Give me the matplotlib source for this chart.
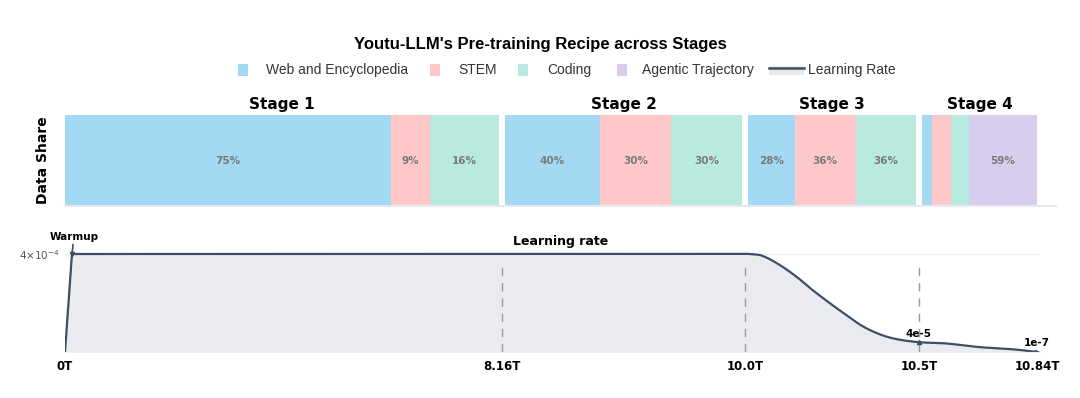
# Youtu-LLM 预训练配方：数据占比 + 学习率曲线
import matplotlib
matplotlib.use("Agg")
import matplotlib.pyplot as plt
import numpy as np
from matplotlib.patches import Rectangle
from matplotlib.lines import Line2D

# ---- 数据 ----
stages = ["Stage 1", "Stage 2", "Stage 3", "Stage 4"]
categories = ["Web and Encyclopedia", "STEM", "Coding", "Agentic Trajectory"]
web = [75, 40, 28, 9]
stem = [9, 30, 36, 16]
coding = [16, 30, 36, 16]
agentic = [0, 0, 0, 59]

stage_tokens = [0, 8.16, 10.0, 10.5, 10.84]  # 各阶段边界 (T)
tick_labels = ["0T", "8.16T", "10.0T", "10.5T", "10.84T"]

# 学习率曲线
lr_tokens = [0, 0.13, 10.0, 10.014, 10.051, 10.10, 10.149, 10.194, 10.243, 10.291,
             10.337, 10.386, 10.434, 10.5, 10.578, 10.674, 10.77, 10.84]
lr_values = [0, 4.0e-4, 4.0e-4, 4.0e-4, 3.92e-4, 3.55e-4, 3.06e-4, 2.53e-4, 2.0e-4, 1.51e-4,
             1.06e-4, 0.73e-4, 0.53e-4, 0.4e-4, 0.35e-4, 0.2e-4, 0.11e-4, 1e-7]

# ---- 样式 ----
colors = ["#a3d9f3", "#ffc8c8", "#b8eae0", "#d9cdee"]
line_c = "#3d4f63"
fill_c = "#e9ebee"
POS = [0, 437, 680, 854, 972]  # 阶段边界在x方向的像素位置 (非线性坐标)
GAP = 3


def tx(t):
    return np.interp(t, stage_tokens, POS)


def smooth(x, y, n=16):
    # Catmull-Rom 平滑，只用于画线
    x = np.asarray(x, float)
    y = np.asarray(y, float)
    px = np.concatenate([[x[0]], x, [x[-1]]])
    py = np.concatenate([[y[0]], y, [y[-1]]])
    ox, oy = [], []
    for i in range(1, len(px) - 2):
        s = np.linspace(0, 1, n, endpoint=False)
        for p, out in ((px, ox), (py, oy)):
            p0, p1, p2, p3 = p[i - 1], p[i], p[i + 1], p[i + 2]
            out.extend(0.5 * (2 * p1 + (-p0 + p2) * s + (2 * p0 - 5 * p1 + 4 * p2 - p3) * s ** 2
                              + (-p0 + 3 * p1 - 3 * p2 + p3) * s ** 3))
    ox.append(x[-1])
    oy.append(y[-1])
    return np.array(ox), np.array(oy)


fig = plt.figure(figsize=(10.8, 3.98), dpi=100)

# ---- 上方：数据占比 ----
ax1 = fig.add_axes([65 / 1080, 1 - 206 / 398, 991 / 1080, 91 / 398])
shares = [web, stem, coding, agentic]
for s in range(len(stages)):
    x0 = POS[s] + (GAP if s > 0 else 0)
    x1 = POS[s + 1] - (GAP if s < len(stages) - 1 else 0)
    w = x1 - x0
    left = x0
    for c in range(len(categories)):
        v = shares[c][s]
        if v == 0:
            continue
        bw = w * v / 100
        ax1.barh(0.5, bw, height=1, left=left, color=colors[c], edgecolor="none")
        if bw > 25:
            ax1.text(left + bw / 2, 0.5, f"{v}%", ha="center", va="center",
                     fontsize=7.5, fontweight="bold", color="#7a7a7a")
        left += bw
    ax1.text((x0 + x1) / 2, 1.03, stages[s], ha="center", va="bottom",
             fontsize=11, fontweight="bold")
ax1.set_xlim(0, 991)
ax1.set_ylim(0, 1)
ax1.set_xticks([])
ax1.set_yticks([])
for sp in ["top", "left", "right"]:
    ax1.spines[sp].set_visible(False)
ax1.spines["bottom"].set_color("#e6eaf0")
ax1.spines["bottom"].set_linewidth(1.5)
ax1.set_ylabel("Data Share", fontsize=10, fontweight="bold", labelpad=11)

# ---- 下方：学习率 ----
ax2 = fig.add_axes([65 / 1080, 1 - 352 / 398, 975 / 1080, 120 / 398])
xs = tx(lr_tokens)
sx, sy = smooth(xs[2:], lr_values[2:])
cx = np.concatenate([xs[:2], sx])
cy = np.concatenate([lr_values[:2], sy])
ax2.fill_between(cx, cy, 0, color=fill_c, lw=0)
ax2.plot(cx, cy, color=line_c, lw=1.6, solid_capstyle="round")
for t in stage_tokens[1:4]:
    ax2.plot([tx(t), tx(t)], [0, 3.67e-4], color="#9a9a9a", lw=1, ls=(0, (6, 5)))
ax2.axhline(4e-4, color="#eeeeee", lw=1, zorder=0)
ax2.set_xlim(0, 975)
ax2.set_ylim(0, 4e-4 * 120 / 98)
ax2.set_xticks(tx(stage_tokens))
ax2.set_xticklabels(tick_labels, fontsize=8.5, fontweight="bold")
ax2.set_yticks([4e-4])
ax2.set_yticklabels([r"$4{\times}10^{-4}$"], fontsize=7.5, color="#555555")
ax2.tick_params(axis="x", length=0, pad=6)
ax2.tick_params(axis="y", length=0, pad=4)
for sp in ["top", "left", "right"]:
    ax2.spines[sp].set_visible(False)
ax2.spines["bottom"].set_color("#eeeeee")

# 标注
ax2.annotate("Warmup", xy=(tx(0.13), 4e-4), xytext=(tx(0.13) + 2, 4.5e-4),
             ha="center", va="bottom", fontsize=7.5, fontweight="bold",
             arrowprops=dict(arrowstyle="-", color=line_c, lw=1.2, shrinkA=0, shrinkB=0))
ax2.plot([tx(0.13)], [4e-4], marker="v", ms=3, color=line_c)
ax2.plot([tx(10.5)], [4e-5], marker="^", ms=3, color=line_c)
ax2.text(tx(10.5), 5.4e-5, "4e-5", ha="center", va="bottom", fontsize=7.5, fontweight="bold")
ax2.plot([tx(10.84)], [1e-7], marker=">", ms=3, color=line_c)
ax2.text(tx(10.84), 1.6e-5, "1e-7", ha="center", va="bottom", fontsize=7.5, fontweight="bold")
ax2.text(496, 4.53e-4, "Learning rate", ha="center", va="center", fontsize=9, fontweight="bold")

# ---- 标题和图例 ----
fig.text(0.5, 1 - 44 / 398, "Youtu-LLM's Pre-training Recipe across Stages", ha="center",
         va="center", fontsize=12, fontweight="bold", family="Liberation Sans")

W, H = 1080, 398
leg_y = 70
sq_x = [238, 430, 518, 617]
txt_x = [266, 458, 547, 642]
for c in range(len(categories)):
    fig.add_artist(Rectangle((sq_x[c] / W, 1 - (leg_y + 6) / H), 10 / W, 12 / H,
                             transform=fig.transFigure, color=colors[c], lw=0))
    fig.text(txt_x[c] / W, 1 - leg_y / H, categories[c], ha="left", va="center",
             fontsize=10, family="Liberation Sans", color="#333333")
fig.add_artist(Rectangle((769 / W, 1 - (leg_y + 5) / H), 35 / W, 9 / H,
                         transform=fig.transFigure, color=fill_c, lw=0))
fig.add_artist(Line2D([769 / W, 804 / W], [1 - (leg_y - 2) / H] * 2,
                      transform=fig.transFigure, color=line_c, lw=1.8))
fig.text(808 / W, 1 - leg_y / H, "Learning Rate", ha="left", va="center",
         fontsize=10, family="Liberation Sans", color="#333333")

fig.savefig("out.png", dpi=100)
